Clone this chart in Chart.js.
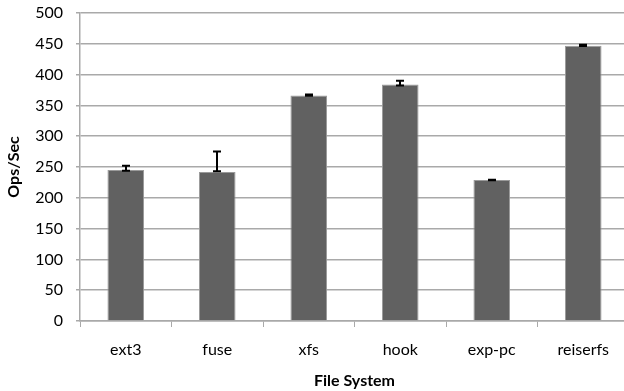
<!DOCTYPE html>
<html>
<head>
<meta charset="utf-8">
<script src="https://cdn.jsdelivr.net/npm/chart.js@4/dist/chart.umd.min.js"></script>
<style>
  html, body { margin: 0; padding: 0; background: #fff; overflow: hidden; }
  #wrap { width: 632px; height: 391px; }
</style>
</head>
<body>
<div id="wrap"><canvas id="c" width="632" height="391"></canvas></div>
<script>
// File systems measured
const categories = ['ext3', 'fuse', 'xfs', 'hook', 'exp-pc', 'reiserfs'];
// Mean throughput (operations per second)
const opsPerSec = [245, 242, 366, 384, 229, 447];
// Error bar extents (low / high) for each file system
const errLow  = [244, 243, 365.5, 382.5, 228.5, 446.5];
const errHigh = [252, 275, 367.5, 390, 229.5, 448.5];
// Value axis ticks
const yTicks = [0, 50, 100, 150, 200, 250, 300, 350, 400, 450, 500];

const FONT = 'Lato, "Open Sans", sans-serif';
const GRID = '#a9a9a9';

const errorBars = {
  id: 'errorBars',
  afterDatasetsDraw(chart) {
    const meta = chart.getDatasetMeta(0);
    const y = chart.scales.y;
    const ctx = chart.ctx;
    ctx.save();
    ctx.strokeStyle = '#000';
    ctx.lineWidth = 2;
    meta.data.forEach((bar, i) => {
      const x = Math.round(bar.x);
      const yl = y.getPixelForValue(errLow[i]);
      const yh = y.getPixelForValue(errHigh[i]);
      ctx.beginPath();
      ctx.moveTo(x, yl); ctx.lineTo(x, yh);
      ctx.moveTo(x - 4, yl); ctx.lineTo(x + 4, yl);
      ctx.moveTo(x - 4, yh); ctx.lineTo(x + 4, yh);
      ctx.stroke();
    });
    ctx.restore();
  }
};

new Chart(document.getElementById('c'), {
  type: 'bar',
  data: {
    labels: categories,
    datasets: [{
      data: opsPerSec,
      backgroundColor: '#616161',
      borderColor: '#9a9a9a',
      borderWidth: 1,
      borderSkipped: 'bottom',
      barPercentage: 0.4,
      categoryPercentage: 1.0
    }]
  },
  options: {
    responsive: false,
    animation: false,
    devicePixelRatio: 1,
    layout: { padding: { left: 0, right: 3, top: 13, bottom: 0 } },
    plugins: { legend: { display: false }, tooltip: { enabled: false } },
    scales: {
      x: {
        offset: true,
        grid: {
          offset: true,
          drawOnChartArea: false,
          drawTicks: true,
          tickLength: 6,
          color: GRID,
          lineWidth: 1
        },
        border: { display: true, color: GRID, width: 1.5 },
        ticks: { color: '#000', padding: 13, font: { family: FONT, size: 16 } },
        title: {
          display: true,
          text: 'File System',
          color: '#000',
          font: { family: FONT, size: 16, weight: 'bold' },
          padding: { top: 0, bottom: 1 }
        },
        afterFit(s) { s.height = 70; s.paddingLeft = 0; s.paddingRight = 0; }
      },
      y: {
        min: 0,
        max: 500,
        afterBuildTicks(s) { s.ticks = yTicks.map(v => ({ value: v })); },
        grid: {
          color: GRID,
          lineWidth: 1.5,
          drawTicks: true,
          tickLength: 4
        },
        border: { display: true, color: GRID, width: 1.5 },
        ticks: { color: '#000', padding: 13, font: { family: FONT, size: 16 } },
        title: {
          display: true,
          text: 'Ops/Sec',
          color: '#000',
          font: { family: FONT, size: 16, weight: 'bold' },
          padding: { top: 4, bottom: 0 }
        },
        afterFit(s) { s.width = 80; s.paddingTop = 0; s.paddingBottom = 0; }
      }
    }
  },
  plugins: [errorBars]
});
</script>
</body>
</html>
